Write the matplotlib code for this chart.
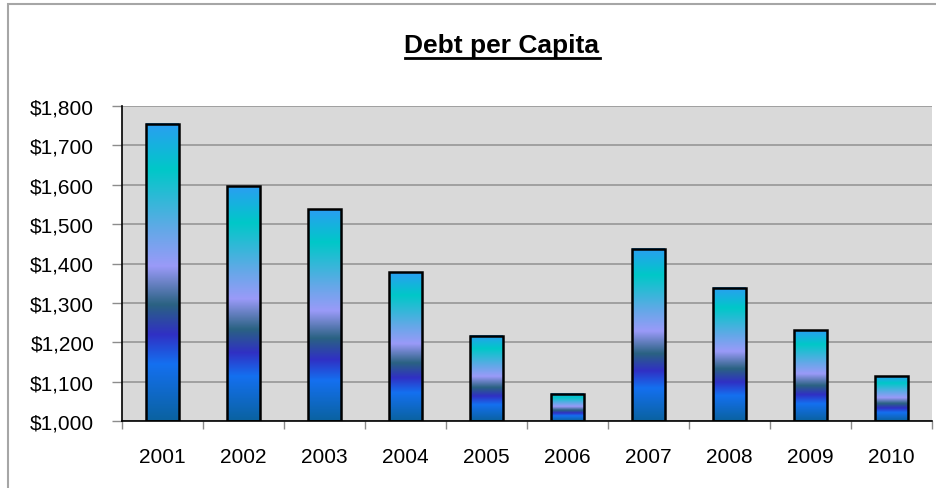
import matplotlib
matplotlib.use('Agg')
import matplotlib.pyplot as plt
import numpy as np
from matplotlib.colors import LinearSegmentedColormap
from matplotlib.ticker import FuncFormatter, FixedLocator
from matplotlib.lines import Line2D
from matplotlib.patches import Rectangle

years = ['2001', '2002', '2003', '2004', '2005', '2006', '2007', '2008', '2009', '2010']
debt = [1755, 1596, 1538, 1378, 1216, 1069, 1437, 1339, 1231, 1114]

plt.rcParams['font.family'] = ['Liberation Sans', 'DejaVu Sans']

# gradient stops, bottom of bar -> top of bar
stops = [(0.00, '#0a62a0'), (0.19, '#1470f0'), (0.29, '#3030c4'),
         (0.39, '#2a6282'), (0.52, '#9a9af8'), (0.64, '#64a8e8'),
         (0.845, '#00c8c8'), (1.00, '#2a9ef2')]
cmap = LinearSegmentedColormap.from_list('bar', stops)
grad = np.linspace(0, 1, 256).reshape(-1, 1)

W, H = 936, 489
fig = plt.figure(figsize=(W/100, H/100), dpi=100)
fig.patches.append(Rectangle((8/W, -0.1), 1.2, (H-5)/H + 0.1, transform=fig.transFigure,
                             fill=False, edgecolor='#a6a6a6', linewidth=1.5))

ax = fig.add_axes([122/W, (H-422)/H, 810/W, 315/H])
ax.set_facecolor('#d9d9d9')

x = np.arange(len(years))
bw = 0.4
for xi, v in zip(x, debt):
    ax.imshow(grad, cmap=cmap, origin='lower', aspect='auto',
              extent=[xi - bw/2, xi + bw/2, 1000, v], zorder=2, interpolation='bilinear')
ax.bar(x, np.array(debt) - 1000, bottom=1000, width=bw, facecolor='none',
       edgecolor='black', linewidth=1.8, zorder=3)

ax.set_xlim(-0.5, len(years) - 0.5)
ax.set_ylim(1000, 1800)
ax.set_yticks(np.arange(1000, 1801, 100))
ax.yaxis.set_major_formatter(FuncFormatter(lambda v, p: '${:,.0f}'.format(v)))
ax.yaxis.grid(True, color='#909090', linewidth=1.1, zorder=1)
ax.set_axisbelow(True)

ax.set_xticks(x)
ax.set_xticklabels(years)
ax.xaxis.set_minor_locator(FixedLocator(np.arange(-0.5, len(years), 1.0)))
ax.tick_params(axis='x', which='major', length=0, pad=19, labelsize=15)
ax.tick_params(axis='x', which='minor', length=6, color='#8c8c8c', width=1)
ax.tick_params(axis='y', length=7, color='#8c8c8c', width=1, pad=13, labelsize=15)

for s in ['top', 'right']:
    ax.spines[s].set_visible(False)
for s in ['left', 'bottom']:
    ax.spines[s].set_color('black')
    ax.spines[s].set_linewidth(1.2)
    ax.spines[s].set_zorder(4)

fig.text(502/W, 1 - 53/H, 'Debt per Capita', ha='center', va='baseline',
         fontsize=19, fontweight='bold')
fig.add_artist(Line2D([405/W, 600/W], [1 - 59/H, 1 - 59/H], transform=fig.transFigure,
                      color='black', linewidth=2))

fig.savefig('out.png', dpi=100)
